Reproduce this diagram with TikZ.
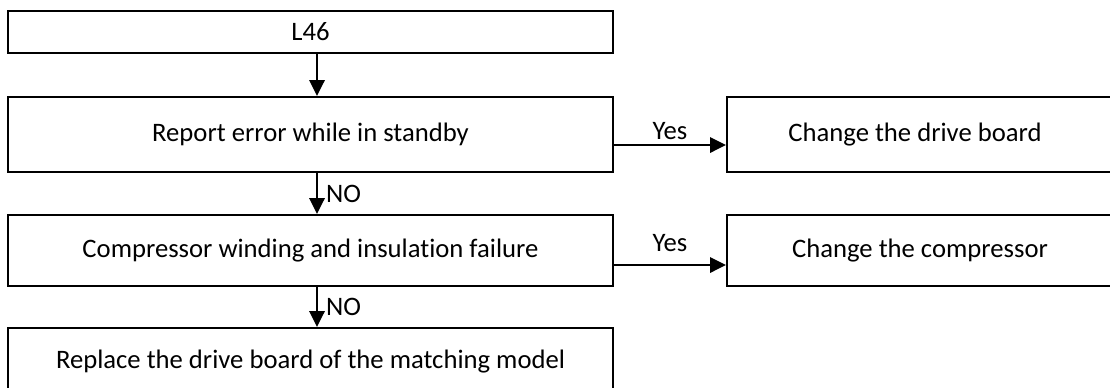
\documentclass[tikz,border=0pt]{standalone}
\usepackage{fontspec}
\setmainfont[RawFeature={-liga;-clig}]{Carlito}
\usetikzlibrary{arrows.meta,calc}
\begin{document}
\begin{tikzpicture}[x=0.75pt,y=-0.75pt,
  txt/.style={font=\fontsize{20}{24}\selectfont},
  box/.style={draw, line width=1.5pt, rectangle, inner sep=0pt, txt},
  arr/.style={line width=1.8pt, -{Triangle[length=12pt,width=11.5pt]}},
  lbl/.style={txt, inner sep=1pt}]
\useasboundingbox (0,0) rectangle (1110,387);
\clip (0,0) rectangle (1110,387);
\node[box, minimum width=453.75pt, minimum height=31.5pt] (b1) at (310.5,32) {L46};
\node[box, minimum width=453.75pt, minimum height=56.25pt] (b2) at (310.5,134.5) {Report error while in standby};
\node[box, minimum width=453.75pt, minimum height=53.25pt] (b3) at (310.5,250.5) {Compressor winding and insulation failure};
\node[box, minimum width=453.75pt, minimum height=50.25pt] (b4) at (310.5,361.5) {Replace the drive board of the matching model};
\node[box, minimum width=298.5pt, minimum height=56.25pt] (rb1) at (926,134.5) {};
\node[box, minimum width=298.5pt, minimum height=53.25pt] (rb2) at (926,250.5) {};
\node[txt] (rt1) at (915,134.5) {Change the drive board};
\node[txt] (rt2) at (920,250.5) {Change the compressor};
\draw[arr] ($(b1.south)+(6.5,0)$) -- ($(b2.north)+(6.5,0)$);
\draw[arr] ($(b2.south)+(6.5,0)$) -- node[lbl,right=5pt] (no1) {NO} ($(b3.north)+(6.5,0)$);
\draw[arr] ($(b3.south)+(6.5,0)$) -- node[lbl,right=5pt] (no2) {NO} ($(b4.north)+(6.5,0)$);
\draw[arr] ($(b2.east)+(0,10.5)$) -- node[lbl,above=2pt] (y1) {Yes} ($(rb1.west)+(0,10.5)$);
\draw[arr] ($(b3.east)+(0,14.5)$) -- node[lbl,above=8pt] (y2) {Yes} ($(rb2.west)+(0,14.5)$);
\end{tikzpicture}
\end{document}
